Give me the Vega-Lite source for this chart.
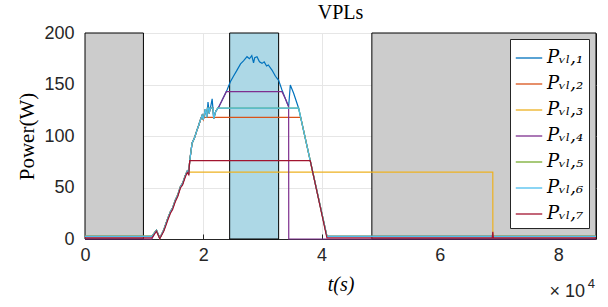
{
  "$schema": "https://vega.github.io/schema/vega-lite/v6.json",
  "width": 511,
  "height": 206,
  "autosize": {"type": "none"},
  "padding": {"left": 85, "top": 33, "right": 12, "bottom": 68},
  "background": "white",
  "title": {"text": "VPLs", "font": "Liberation Serif", "fontSize": 20, "fontWeight": "normal", "color": "#000000", "offset": 1},
  "config": {
    "view": {"stroke": "#262626", "strokeWidth": 1},
    "axis": {
      "labelFont": "Liberation Sans", "labelFontSize": 18, "labelColor": "#262626",
      "domainColor": "#262626", "tickColor": "#262626", "gridColor": "#E6E6E6",
      "titleFont": "Liberation Serif", "titleFontWeight": "normal", "titleColor": "#000000", "titleFontSize": 20
    },
    "legend": {
      "labelFont": "DejaVu Serif", "labelFontStyle": "italic", "labelFontSize": 18, "labelColor": "#000000",
      "fillColor": "white", "strokeColor": "#262626", "padding": 5, "rowPadding": 3,
      "symbolType": "stroke", "symbolSize": 700, "symbolStrokeWidth": 1.3, "labelOffset": 4
    }
  },
  "datasets": {
    "zones": [
      {"t0": 0, "t1": 9880, "kind": "off"},
      {"t0": 24460, "t1": 32740, "kind": "on"},
      {"t0": 48500, "t1": 86400, "kind": "off"}
    ],
    "series": [
      {"s": "Pᵥₗ,₁", "t": 0, "P": 2.5}, {"s": "Pᵥₗ,₁", "t": 11300, "P": 2.5}, {"s": "Pᵥₗ,₁", "t": 12078, "P": 8.5}, {"s": "Pᵥₗ,₁", "t": 12641, "P": 0.8}, {"s": "Pᵥₗ,₁", "t": 13316, "P": 8.7}, {"s": "Pᵥₗ,₁", "t": 13700, "P": 15}, {"s": "Pᵥₗ,₁", "t": 14000, "P": 20}, {"s": "Pᵥₗ,₁", "t": 14443, "P": 26.5}, {"s": "Pᵥₗ,₁", "t": 14800, "P": 30}, {"s": "Pᵥₗ,₁", "t": 15287, "P": 37.9}, {"s": "Pᵥₗ,₁", "t": 15700, "P": 43}, {"s": "Pᵥₗ,₁", "t": 16132, "P": 50.8}, {"s": "Pᵥₗ,₁", "t": 16500, "P": 54}, {"s": "Pᵥₗ,₁", "t": 16976, "P": 62}, {"s": "Pᵥₗ,₁", "t": 17300, "P": 66}, {"s": "Pᵥₗ,₁", "t": 17539, "P": 64}, {"s": "Pᵥₗ,₁", "t": 17708, "P": 76}, {"s": "Pᵥₗ,₁", "t": 18102, "P": 93}, {"s": "Pᵥₗ,₁", "t": 18500, "P": 98}, {"s": "Pᵥₗ,₁", "t": 18947, "P": 106}, {"s": "Pᵥₗ,₁", "t": 19200, "P": 110}, {"s": "Pᵥₗ,₁", "t": 19510, "P": 115.5}, {"s": "Pᵥₗ,₁", "t": 19800, "P": 120}, {"s": "Pᵥₗ,₁", "t": 20000, "P": 116}, {"s": "Pᵥₗ,₁", "t": 20355, "P": 126}, {"s": "Pᵥₗ,₁", "t": 20600, "P": 118}, {"s": "Pᵥₗ,₁", "t": 20800, "P": 133}, {"s": "Pᵥₗ,₁", "t": 21000, "P": 122}, {"s": "Pᵥₗ,₁", "t": 21300, "P": 130}, {"s": "Pᵥₗ,₁", "t": 21500, "P": 136}, {"s": "Pᵥₗ,₁", "t": 21762, "P": 117}, {"s": "Pᵥₗ,₁", "t": 22100, "P": 124}, {"s": "Pᵥₗ,₁", "t": 22600, "P": 128}, {"s": "Pᵥₗ,₁", "t": 23200, "P": 135}, {"s": "Pᵥₗ,₁", "t": 24015, "P": 144.7}, {"s": "Pᵥₗ,₁", "t": 24578, "P": 152.7}, {"s": "Pᵥₗ,₁", "t": 25100, "P": 158}, {"s": "Pᵥₗ,₁", "t": 25704, "P": 164}, {"s": "Pᵥₗ,₁", "t": 26300, "P": 170}, {"s": "Pᵥₗ,₁", "t": 26800, "P": 173}, {"s": "Pᵥₗ,₁", "t": 27393, "P": 177}, {"s": "Pᵥₗ,₁", "t": 27800, "P": 175}, {"s": "Pᵥₗ,₁", "t": 28200, "P": 178}, {"s": "Pᵥₗ,₁", "t": 28500, "P": 171}, {"s": "Pᵥₗ,₁", "t": 28700, "P": 176}, {"s": "Pᵥₗ,₁", "t": 29082, "P": 177}, {"s": "Pᵥₗ,₁", "t": 29500, "P": 172}, {"s": "Pᵥₗ,₁", "t": 29927, "P": 170.5}, {"s": "Pᵥₗ,₁", "t": 30300, "P": 172}, {"s": "Pᵥₗ,₁", "t": 30700, "P": 168}, {"s": "Pᵥₗ,₁", "t": 31000, "P": 169}, {"s": "Pᵥₗ,₁", "t": 31616, "P": 164}, {"s": "Pᵥₗ,₁", "t": 32200, "P": 158}, {"s": "Pᵥₗ,₁", "t": 32742, "P": 154}, {"s": "Pᵥₗ,₁", "t": 33305, "P": 144.7}, {"s": "Pᵥₗ,₁", "t": 33900, "P": 136}, {"s": "Pᵥₗ,₁", "t": 34431, "P": 128.4}, {"s": "Pᵥₗ,₁", "t": 34713, "P": 149.5}, {"s": "Pᵥₗ,₁", "t": 35276, "P": 141.5}, {"s": "Pᵥₗ,₁", "t": 36120, "P": 127}, {"s": "Pᵥₗ,₁", "t": 38080, "P": 76}, {"s": "Pᵥₗ,₁", "t": 40907, "P": 2.5}, {"s": "Pᵥₗ,₁", "t": 86400, "P": 2.5},

      {"s": "Pᵥₗ,₂", "t": 0, "P": 2.5}, {"s": "Pᵥₗ,₂", "t": 11300, "P": 2.5}, {"s": "Pᵥₗ,₂", "t": 12078, "P": 8.5}, {"s": "Pᵥₗ,₂", "t": 12641, "P": 0.8}, {"s": "Pᵥₗ,₂", "t": 13316, "P": 8.7}, {"s": "Pᵥₗ,₂", "t": 13700, "P": 15}, {"s": "Pᵥₗ,₂", "t": 14000, "P": 20}, {"s": "Pᵥₗ,₂", "t": 14443, "P": 26.5}, {"s": "Pᵥₗ,₂", "t": 14800, "P": 30}, {"s": "Pᵥₗ,₂", "t": 15287, "P": 37.9}, {"s": "Pᵥₗ,₂", "t": 15700, "P": 43}, {"s": "Pᵥₗ,₂", "t": 16132, "P": 50.8}, {"s": "Pᵥₗ,₂", "t": 16500, "P": 54}, {"s": "Pᵥₗ,₂", "t": 16976, "P": 62}, {"s": "Pᵥₗ,₂", "t": 17300, "P": 66}, {"s": "Pᵥₗ,₂", "t": 17539, "P": 64}, {"s": "Pᵥₗ,₂", "t": 17708, "P": 76}, {"s": "Pᵥₗ,₂", "t": 18102, "P": 93}, {"s": "Pᵥₗ,₂", "t": 18500, "P": 98}, {"s": "Pᵥₗ,₂", "t": 18947, "P": 106}, {"s": "Pᵥₗ,₂", "t": 19200, "P": 110}, {"s": "Pᵥₗ,₂", "t": 19510, "P": 115.5}, {"s": "Pᵥₗ,₂", "t": 19650, "P": 118}, {"s": "Pᵥₗ,₂", "t": 19900, "P": 118}, {"s": "Pᵥₗ,₂", "t": 20000, "P": 116}, {"s": "Pᵥₗ,₂", "t": 20100, "P": 118}, {"s": "Pᵥₗ,₂", "t": 36466, "P": 118}, {"s": "Pᵥₗ,₂", "t": 38080, "P": 76}, {"s": "Pᵥₗ,₂", "t": 40907, "P": 2.5}, {"s": "Pᵥₗ,₂", "t": 86400, "P": 2.5},

      {"s": "Pᵥₗ,₃", "t": 0, "P": 2.5}, {"s": "Pᵥₗ,₃", "t": 11300, "P": 2.5}, {"s": "Pᵥₗ,₃", "t": 12078, "P": 8.5}, {"s": "Pᵥₗ,₃", "t": 12641, "P": 0.8}, {"s": "Pᵥₗ,₃", "t": 13316, "P": 8.7}, {"s": "Pᵥₗ,₃", "t": 13700, "P": 15}, {"s": "Pᵥₗ,₃", "t": 14000, "P": 20}, {"s": "Pᵥₗ,₃", "t": 14443, "P": 26.5}, {"s": "Pᵥₗ,₃", "t": 14800, "P": 30}, {"s": "Pᵥₗ,₃", "t": 15287, "P": 37.9}, {"s": "Pᵥₗ,₃", "t": 15700, "P": 43}, {"s": "Pᵥₗ,₃", "t": 16132, "P": 50.8}, {"s": "Pᵥₗ,₃", "t": 16500, "P": 54}, {"s": "Pᵥₗ,₃", "t": 16976, "P": 62}, {"s": "Pᵥₗ,₃", "t": 17200, "P": 65}, {"s": "Pᵥₗ,₃", "t": 68950, "P": 65}, {"s": "Pᵥₗ,₃", "t": 68960, "P": 2.5}, {"s": "Pᵥₗ,₃", "t": 86400, "P": 2.5},

      {"s": "Pᵥₗ,₄", "t": 0, "P": 0}, {"s": "Pᵥₗ,₄", "t": 11300, "P": 0}, {"s": "Pᵥₗ,₄", "t": 12078, "P": 8.5}, {"s": "Pᵥₗ,₄", "t": 12641, "P": 0.8}, {"s": "Pᵥₗ,₄", "t": 13316, "P": 8.7}, {"s": "Pᵥₗ,₄", "t": 13700, "P": 15}, {"s": "Pᵥₗ,₄", "t": 14000, "P": 20}, {"s": "Pᵥₗ,₄", "t": 14443, "P": 26.5}, {"s": "Pᵥₗ,₄", "t": 14800, "P": 30}, {"s": "Pᵥₗ,₄", "t": 15287, "P": 37.9}, {"s": "Pᵥₗ,₄", "t": 15700, "P": 43}, {"s": "Pᵥₗ,₄", "t": 16132, "P": 50.8}, {"s": "Pᵥₗ,₄", "t": 16500, "P": 54}, {"s": "Pᵥₗ,₄", "t": 16976, "P": 62}, {"s": "Pᵥₗ,₄", "t": 17300, "P": 66}, {"s": "Pᵥₗ,₄", "t": 17539, "P": 64}, {"s": "Pᵥₗ,₄", "t": 17708, "P": 76}, {"s": "Pᵥₗ,₄", "t": 18102, "P": 93}, {"s": "Pᵥₗ,₄", "t": 18500, "P": 98}, {"s": "Pᵥₗ,₄", "t": 18947, "P": 106}, {"s": "Pᵥₗ,₄", "t": 19200, "P": 110}, {"s": "Pᵥₗ,₄", "t": 19510, "P": 115.5}, {"s": "Pᵥₗ,₄", "t": 19800, "P": 120}, {"s": "Pᵥₗ,₄", "t": 20000, "P": 116}, {"s": "Pᵥₗ,₄", "t": 20355, "P": 126}, {"s": "Pᵥₗ,₄", "t": 20600, "P": 118}, {"s": "Pᵥₗ,₄", "t": 20700, "P": 127}, {"s": "Pᵥₗ,₄", "t": 20900, "P": 127}, {"s": "Pᵥₗ,₄", "t": 21000, "P": 122}, {"s": "Pᵥₗ,₄", "t": 21150, "P": 127}, {"s": "Pᵥₗ,₄", "t": 21650, "P": 127}, {"s": "Pᵥₗ,₄", "t": 21762, "P": 117}, {"s": "Pᵥₗ,₄", "t": 22100, "P": 124}, {"s": "Pᵥₗ,₄", "t": 22600, "P": 128}, {"s": "Pᵥₗ,₄", "t": 23200, "P": 135}, {"s": "Pᵥₗ,₄", "t": 23900, "P": 143}, {"s": "Pᵥₗ,₄", "t": 33305, "P": 143}, {"s": "Pᵥₗ,₄", "t": 33900, "P": 136}, {"s": "Pᵥₗ,₄", "t": 34431, "P": 128.4}, {"s": "Pᵥₗ,₄", "t": 34450, "P": 0}, {"s": "Pᵥₗ,₄", "t": 86400, "P": 0},

      {"s": "Pᵥₗ,₅", "t": 0, "P": 2.5}, {"s": "Pᵥₗ,₅", "t": 11300, "P": 2.5}, {"s": "Pᵥₗ,₅", "t": 12078, "P": 8.5}, {"s": "Pᵥₗ,₅", "t": 12641, "P": 0.8}, {"s": "Pᵥₗ,₅", "t": 13316, "P": 8.7}, {"s": "Pᵥₗ,₅", "t": 13700, "P": 15}, {"s": "Pᵥₗ,₅", "t": 14000, "P": 20}, {"s": "Pᵥₗ,₅", "t": 14443, "P": 26.5}, {"s": "Pᵥₗ,₅", "t": 14800, "P": 30}, {"s": "Pᵥₗ,₅", "t": 15287, "P": 37.9}, {"s": "Pᵥₗ,₅", "t": 15700, "P": 43}, {"s": "Pᵥₗ,₅", "t": 16132, "P": 50.8}, {"s": "Pᵥₗ,₅", "t": 16500, "P": 54}, {"s": "Pᵥₗ,₅", "t": 16976, "P": 62}, {"s": "Pᵥₗ,₅", "t": 17300, "P": 66}, {"s": "Pᵥₗ,₅", "t": 17539, "P": 64}, {"s": "Pᵥₗ,₅", "t": 17708, "P": 76}, {"s": "Pᵥₗ,₅", "t": 18102, "P": 93}, {"s": "Pᵥₗ,₅", "t": 18500, "P": 98}, {"s": "Pᵥₗ,₅", "t": 18947, "P": 106}, {"s": "Pᵥₗ,₅", "t": 19200, "P": 110}, {"s": "Pᵥₗ,₅", "t": 19510, "P": 115.5}, {"s": "Pᵥₗ,₅", "t": 19800, "P": 120}, {"s": "Pᵥₗ,₅", "t": 20000, "P": 116}, {"s": "Pᵥₗ,₅", "t": 20355, "P": 126}, {"s": "Pᵥₗ,₅", "t": 20600, "P": 118}, {"s": "Pᵥₗ,₅", "t": 20700, "P": 127}, {"s": "Pᵥₗ,₅", "t": 20900, "P": 127}, {"s": "Pᵥₗ,₅", "t": 21000, "P": 122}, {"s": "Pᵥₗ,₅", "t": 21150, "P": 127}, {"s": "Pᵥₗ,₅", "t": 21650, "P": 127}, {"s": "Pᵥₗ,₅", "t": 21762, "P": 117}, {"s": "Pᵥₗ,₅", "t": 22100, "P": 124}, {"s": "Pᵥₗ,₅", "t": 22450, "P": 127}, {"s": "Pᵥₗ,₅", "t": 36120, "P": 127}, {"s": "Pᵥₗ,₅", "t": 38080, "P": 76}, {"s": "Pᵥₗ,₅", "t": 40907, "P": 2.5}, {"s": "Pᵥₗ,₅", "t": 86400, "P": 2.5},

      {"s": "Pᵥₗ,₆", "t": 0, "P": 2.5}, {"s": "Pᵥₗ,₆", "t": 11300, "P": 2.5}, {"s": "Pᵥₗ,₆", "t": 12078, "P": 8.5}, {"s": "Pᵥₗ,₆", "t": 12641, "P": 0.8}, {"s": "Pᵥₗ,₆", "t": 13316, "P": 8.7}, {"s": "Pᵥₗ,₆", "t": 13700, "P": 15}, {"s": "Pᵥₗ,₆", "t": 14000, "P": 20}, {"s": "Pᵥₗ,₆", "t": 14443, "P": 26.5}, {"s": "Pᵥₗ,₆", "t": 14800, "P": 30}, {"s": "Pᵥₗ,₆", "t": 15287, "P": 37.9}, {"s": "Pᵥₗ,₆", "t": 15700, "P": 43}, {"s": "Pᵥₗ,₆", "t": 16132, "P": 50.8}, {"s": "Pᵥₗ,₆", "t": 16500, "P": 54}, {"s": "Pᵥₗ,₆", "t": 16976, "P": 62}, {"s": "Pᵥₗ,₆", "t": 17300, "P": 66}, {"s": "Pᵥₗ,₆", "t": 17539, "P": 64}, {"s": "Pᵥₗ,₆", "t": 17708, "P": 76}, {"s": "Pᵥₗ,₆", "t": 18102, "P": 93}, {"s": "Pᵥₗ,₆", "t": 18500, "P": 98}, {"s": "Pᵥₗ,₆", "t": 18947, "P": 106}, {"s": "Pᵥₗ,₆", "t": 19200, "P": 110}, {"s": "Pᵥₗ,₆", "t": 19510, "P": 115.5}, {"s": "Pᵥₗ,₆", "t": 19800, "P": 120}, {"s": "Pᵥₗ,₆", "t": 20000, "P": 116}, {"s": "Pᵥₗ,₆", "t": 20355, "P": 126}, {"s": "Pᵥₗ,₆", "t": 20600, "P": 118}, {"s": "Pᵥₗ,₆", "t": 20700, "P": 127}, {"s": "Pᵥₗ,₆", "t": 20900, "P": 127}, {"s": "Pᵥₗ,₆", "t": 21000, "P": 122}, {"s": "Pᵥₗ,₆", "t": 21150, "P": 127}, {"s": "Pᵥₗ,₆", "t": 21650, "P": 127}, {"s": "Pᵥₗ,₆", "t": 21762, "P": 117}, {"s": "Pᵥₗ,₆", "t": 22100, "P": 124}, {"s": "Pᵥₗ,₆", "t": 22450, "P": 127}, {"s": "Pᵥₗ,₆", "t": 36120, "P": 127}, {"s": "Pᵥₗ,₆", "t": 38080, "P": 76}, {"s": "Pᵥₗ,₆", "t": 40907, "P": 2.5}, {"s": "Pᵥₗ,₆", "t": 86400, "P": 2.5},

      {"s": "Pᵥₗ,₇", "t": 0, "P": 1}, {"s": "Pᵥₗ,₇", "t": 11300, "P": 1}, {"s": "Pᵥₗ,₇", "t": 12078, "P": 7.5}, {"s": "Pᵥₗ,₇", "t": 12641, "P": 0.3}, {"s": "Pᵥₗ,₇", "t": 13316, "P": 7.5}, {"s": "Pᵥₗ,₇", "t": 13700, "P": 13.5}, {"s": "Pᵥₗ,₇", "t": 14000, "P": 18.5}, {"s": "Pᵥₗ,₇", "t": 14443, "P": 25}, {"s": "Pᵥₗ,₇", "t": 14800, "P": 28.5}, {"s": "Pᵥₗ,₇", "t": 15287, "P": 36.5}, {"s": "Pᵥₗ,₇", "t": 15700, "P": 41.5}, {"s": "Pᵥₗ,₇", "t": 16132, "P": 49.5}, {"s": "Pᵥₗ,₇", "t": 16500, "P": 52.5}, {"s": "Pᵥₗ,₇", "t": 16976, "P": 60.5}, {"s": "Pᵥₗ,₇", "t": 17300, "P": 64.5}, {"s": "Pᵥₗ,₇", "t": 17539, "P": 62.5}, {"s": "Pᵥₗ,₇", "t": 17708, "P": 76}, {"s": "Pᵥₗ,₇", "t": 38080, "P": 76}, {"s": "Pᵥₗ,₇", "t": 40907, "P": 1}, {"s": "Pᵥₗ,₇", "t": 68850, "P": 1}, {"s": "Pᵥₗ,₇", "t": 68950, "P": 7}, {"s": "Pᵥₗ,₇", "t": 69050, "P": 1}, {"s": "Pᵥₗ,₇", "t": 86400, "P": 1}
    ],
    "note": [{"t": 86400, "P": 0, "label": "× 10", "exp": "4"}]
  },
  "layer": [
    {
      "data": {"name": "zones"},
      "mark": {"type": "rect", "stroke": "#000000", "strokeWidth": 1},
      "encoding": {
        "x": {"field": "t0", "type": "quantitative", "scale": {"domain": [0, 86400], "nice": false, "zero": false},
          "axis": {"values": [0, 20000, 40000, 60000, 80000], "labelExpr": "datum.value / 10000", "title": "t(s)", "titleFontStyle": "italic", "titlePadding": 10, "tickSize": -5, "labelPadding": 12, "grid": true, "labelFlush": false}},
        "x2": {"field": "t1"},
        "y": {"datum": 0, "type": "quantitative", "scale": {"domain": [0, 200], "nice": false},
          "axis": {"values": [0, 50, 100, 150, 200], "title": "Power(W)", "titleFontSize": 21, "titlePadding": 6, "tickSize": -5, "labelPadding": 16, "grid": true}},
        "y2": {"datum": 200},
        "fill": {"field": "kind", "type": "nominal", "scale": {"domain": ["off", "on"], "range": ["#CCCCCC", "#ADD8E6"]}, "legend": null}
      }
    },
    {
      "data": {"name": "series"},
      "mark": {"type": "line", "strokeWidth": 1.2, "interpolate": "linear"},
      "encoding": {
        "x": {"field": "t", "type": "quantitative"},
        "y": {"field": "P", "type": "quantitative"},
        "color": {"field": "s", "type": "nominal", "sort": null,
          "scale": {"domain": ["Pᵥₗ,₁", "Pᵥₗ,₂", "Pᵥₗ,₃", "Pᵥₗ,₄", "Pᵥₗ,₅", "Pᵥₗ,₆", "Pᵥₗ,₇"],
            "range": ["#0072BD", "#D95319", "#EDB120", "#7E2F8E", "#77AC30", "#4DBEEE", "#A2142F"]},
          "legend": {"title": null, "orient": "none", "legendX": 425, "legendY": 6}}
      }
    },
    {
      "data": {"name": "note"},
      "mark": {"type": "text", "align": "right", "baseline": "middle", "dy": 53, "dx": -11, "font": "Liberation Sans", "fontSize": 18, "color": "#262626"},
      "encoding": {
        "x": {"field": "t", "type": "quantitative"},
        "y": {"field": "P", "type": "quantitative"},
        "text": {"field": "label"}
      }
    },
    {
      "data": {"name": "note"},
      "mark": {"type": "text", "align": "right", "baseline": "middle", "dy": 45, "dx": -1, "font": "Liberation Sans", "fontSize": 13, "color": "#262626"},
      "encoding": {
        "x": {"field": "t", "type": "quantitative"},
        "y": {"field": "P", "type": "quantitative"},
        "text": {"field": "exp"}
      }
    }
  ]
}
